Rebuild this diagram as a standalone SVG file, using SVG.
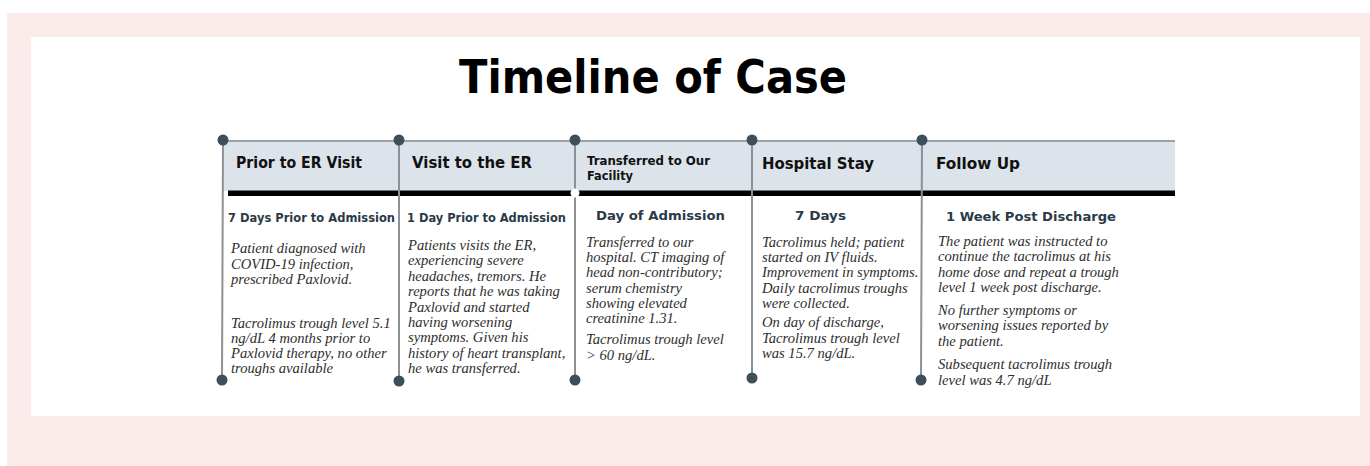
<svg xmlns="http://www.w3.org/2000/svg" width="1370" height="466" viewBox="0 0 1370 466">
  <style>
    .title { font-family: "DejaVu Sans", Verdana, sans-serif; font-weight: bold; fill: #000; }
    .head { font-family: "DejaVu Sans", Verdana, sans-serif; font-weight: bold; font-size: 15.5px; fill: #111; }
    .head-sm { font-family: "DejaVu Sans", Verdana, sans-serif; font-weight: bold; font-size: 12.5px; fill: #111; }
    .sub { font-family: "DejaVu Sans", Verdana, sans-serif; font-weight: bold; font-size: 12.2px; fill: #2b3a47; }
    .body { font-family: "Liberation Serif", "Times New Roman", serif; font-style: italic; font-size: 14.6px; fill: #2e2e2e; }
    .stem { stroke: #8a9298; stroke-width: 2; fill: none; }
    .dot { fill: #3e4f5c; }
  </style>

  <!-- page frame -->
  <rect x="0" y="0" width="1370" height="466" fill="#ffffff"/>
  <rect x="7" y="13" width="1363" height="453" fill="#fbecec"/>
  <rect x="31" y="37" width="1329" height="379" fill="#ffffff"/>

  <text class="title" x="653" y="93" font-size="47" text-anchor="middle" textLength="388" lengthAdjust="spacingAndGlyphs">Timeline of Case</text>

  <!-- header band and timeline rule -->
  <g id="timeline">
    <rect x="223" y="141" width="952" height="50" fill="#dde3ea"/>
    <line x1="223" y1="141" x2="1175" y2="141" stroke="#9aa3ab" stroke-width="2"/>
    <rect x="228" y="190.5" width="947" height="5.5" fill="#000"/>
  </g>

  <!-- phase stems with end dots -->
  <g id="connectors">
    <line class="stem" x1="223" y1="140" x2="222" y2="380"/>
    <line class="stem" x1="399" y1="140" x2="399" y2="381"/>
    <line class="stem" x1="575" y1="140" x2="575" y2="380"/>
    <line class="stem" x1="752" y1="140" x2="752" y2="378"/>
    <line class="stem" x1="922" y1="140" x2="921" y2="380"/>
    <circle class="dot" cx="223" cy="140" r="5.5"/>
    <circle class="dot" cx="399" cy="140" r="5.5"/>
    <circle class="dot" cx="575" cy="140" r="5.5"/>
    <circle class="dot" cx="752" cy="140" r="5.5"/>
    <circle class="dot" cx="922" cy="140" r="5.5"/>
    <circle class="dot" cx="222" cy="380" r="5.5"/>
    <circle class="dot" cx="399" cy="381" r="5.5"/>
    <circle class="dot" cx="575" cy="380" r="5.5"/>
    <circle class="dot" cx="752" cy="378" r="5.5"/>
    <circle class="dot" cx="921" cy="380" r="5.5"/>
    <circle cx="575" cy="193" r="4.5" fill="#ffffff"/>
  </g>

  <!-- phase 1 -->
  <g id="prior-er">
    <text class="head" x="236" y="168" textLength="126" lengthAdjust="spacingAndGlyphs">Prior to ER Visit</text>
    <text class="sub" x="228" y="222" textLength="167" lengthAdjust="spacingAndGlyphs">7 Days Prior to Admission</text>
    <text class="body" x="231" y="253">
      <tspan x="231" dy="0">Patient diagnosed with</tspan>
      <tspan x="231" dy="15.5">COVID-19 infection,</tspan>
      <tspan x="231" dy="15.5">prescribed Paxlovid.</tspan>
      <tspan x="231" dy="43.5">Tacrolimus trough level 5.1</tspan>
      <tspan x="231" dy="15.3">ng/dL 4 months prior to</tspan>
      <tspan x="231" dy="15.3">Paxlovid therapy, no other</tspan>
      <tspan x="231" dy="15.3">troughs available</tspan>
    </text>
  </g>

  <!-- phase 2 -->
  <g id="er-visit">
    <text class="head" x="412" y="168" textLength="120" lengthAdjust="spacingAndGlyphs">Visit to the ER</text>
    <text class="sub" x="407" y="222" textLength="159" lengthAdjust="spacingAndGlyphs">1 Day Prior to Admission</text>
    <text class="body" x="408" y="250">
      <tspan x="408" dy="0">Patients visits the ER,</tspan>
      <tspan x="408" dy="15.4">experiencing severe</tspan>
      <tspan x="408" dy="15.4">headaches, tremors. He</tspan>
      <tspan x="408" dy="15.4">reports that he was taking</tspan>
      <tspan x="408" dy="15.4">Paxlovid and started</tspan>
      <tspan x="408" dy="15.4">having worsening</tspan>
      <tspan x="408" dy="15.4">symptoms. Given his</tspan>
      <tspan x="408" dy="15.4">history of heart transplant,</tspan>
      <tspan x="408" dy="15.4">he was transferred.</tspan>
    </text>
  </g>

  <!-- phase 3 -->
  <g id="transfer">
    <text class="head-sm" x="587" y="165" textLength="123" lengthAdjust="spacingAndGlyphs">Transferred to Our</text>
    <text class="head-sm" x="587" y="180" textLength="46" lengthAdjust="spacingAndGlyphs">Facility</text>
    <text class="sub" x="596" y="220" textLength="129" lengthAdjust="spacingAndGlyphs">Day of Admission</text>
    <text class="body" x="586" y="247">
      <tspan x="586" dy="0">Transferred to our</tspan>
      <tspan x="586" dy="15.2">hospital. CT imaging of</tspan>
      <tspan x="586" dy="15.2">head non-contributory;</tspan>
      <tspan x="586" dy="15.2">serum chemistry</tspan>
      <tspan x="586" dy="15.2">showing elevated</tspan>
      <tspan x="586" dy="15.2">creatinine 1.31.</tspan>
      <tspan x="586" dy="21">Tacrolimus trough level</tspan>
      <tspan x="586" dy="15.5">&gt; 60 ng/dL.</tspan>
    </text>
  </g>

  <!-- phase 4 -->
  <g id="hospital-stay">
    <text class="head" x="762" y="169" textLength="112" lengthAdjust="spacingAndGlyphs">Hospital Stay</text>
    <text class="sub" x="795" y="220" textLength="51" lengthAdjust="spacingAndGlyphs">7 Days</text>
    <text class="body" x="762" y="247">
      <tspan x="762" dy="0">Tacrolimus held; patient</tspan>
      <tspan x="762" dy="15.2">started on IV fluids.</tspan>
      <tspan x="762" dy="15.2">Improvement in symptoms.</tspan>
      <tspan x="762" dy="15.2">Daily tacrolimus troughs</tspan>
      <tspan x="762" dy="15.2">were collected.</tspan>
      <tspan x="762" dy="19.5">On day of discharge,</tspan>
      <tspan x="762" dy="15.3">Tacrolimus trough level</tspan>
      <tspan x="762" dy="15.3">was 15.7 ng/dL.</tspan>
    </text>
  </g>

  <!-- phase 5 -->
  <g id="follow-up">
    <text class="head" x="936" y="169" textLength="84" lengthAdjust="spacingAndGlyphs">Follow Up</text>
    <text class="sub" x="946" y="221" textLength="170" lengthAdjust="spacingAndGlyphs">1 Week Post Discharge</text>
    <text class="body" x="938" y="246">
      <tspan x="938" dy="0">The patient was instructed to</tspan>
      <tspan x="938" dy="15.3">continue the tacrolimus at his</tspan>
      <tspan x="938" dy="15.3">home dose and repeat a trough</tspan>
      <tspan x="938" dy="15.3">level 1 week post discharge.</tspan>
      <tspan x="938" dy="23">No further symptoms or</tspan>
      <tspan x="938" dy="15.4">worsening issues reported by</tspan>
      <tspan x="938" dy="15.4">the patient.</tspan>
      <tspan x="938" dy="23.5">Subsequent tacrolimus trough</tspan>
      <tspan x="938" dy="15.5">level was 4.7 ng/dL</tspan>
    </text>
  </g>
</svg>
